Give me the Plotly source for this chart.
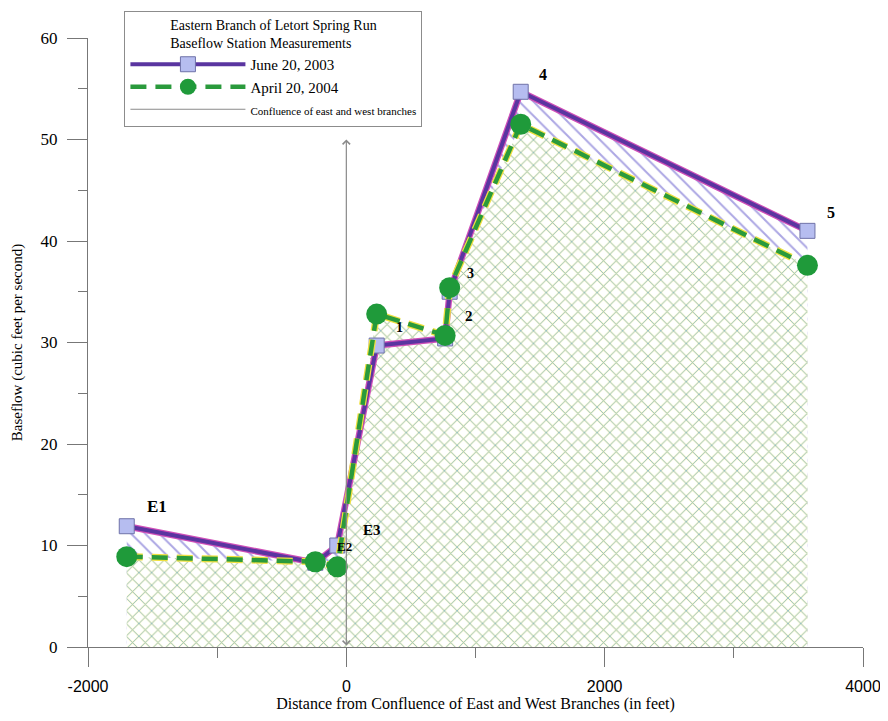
import plotly.graph_objects as go

# ---- data ----
stations = ["E1", "E2", "E3", "1", "2", "3", "4", "5"]
distance_ft = [-1700, -240, -70, 235, 765, 800, 1350, 3570]
june_2003 = [11.9, 8.3, 10.0, 29.7, 30.4, 35.0, 54.7, 41.0]
april_2004 = [8.9, 8.4, 7.9, 32.8, 30.7, 35.4, 51.5, 37.6]
x_tick_vals = [-2000, 0, 2000, 4000]
x_tick_text = ["-2000", "0", "2000", "4000"]
y_tick_vals = [0, 10, 20, 30, 40, 50, 60]
confluence_x = 0
confluence_arrow_y = [0, 50]

# label offsets (pixels) relative to the June points
label_dx = [30, 29, 35, 23, 24, 21, 22, 24]
label_dy = [20, 16, 16, 18, 22, 18, 17, 18]
label_size = [17, 13, 15, 14, 15, 14, 16, 16]

SERIF = "Liberation Serif"
SANS = "Liberation Sans"

fig = go.Figure()

# June 2003 hatched area ("\" lines)
fig.add_trace(go.Scatter(
    x=distance_ft, y=june_2003, mode="none", fill="tozeroy",
    fillcolor="rgba(0,0,0,0)",
    fillpattern=dict(shape="\\", fgcolor="#5a50c8", bgcolor="rgba(0,0,0,0)",
                     size=10, solidity=0.2),
    showlegend=False, hoverinfo="skip"))

# April 2004 crosshatched area (yellow under-layer + blue lines)
fig.add_trace(go.Scatter(
    x=distance_ft, y=april_2004, mode="none", fill="tozeroy",
    fillcolor="rgba(0,0,0,0)",
    fillpattern=dict(shape="x", fgcolor="#f0ea5a", bgcolor="white",
                     size=9, solidity=0.28),
    showlegend=False, hoverinfo="skip"))
fig.add_trace(go.Scatter(
    x=distance_ft, y=april_2004, mode="none", fill="tozeroy",
    fillcolor="rgba(0,0,0,0)",
    fillpattern=dict(shape="x", fgcolor="#3d8ee0", bgcolor="rgba(0,0,0,0)",
                     size=9, solidity=0.2),
    showlegend=False, hoverinfo="skip"))

# June 2003 line (magenta fringe + purple core) and squares
fig.add_trace(go.Scatter(
    x=distance_ft, y=june_2003, mode="lines",
    line=dict(color="#cf4fb8", width=6.5),
    showlegend=False, hoverinfo="skip", legendgroup="june"))
fig.add_trace(go.Scatter(
    x=distance_ft, y=june_2003, mode="lines+markers",
    name="June 20, 2003", legendgroup="june",
    line=dict(color="#5a35a0", width=4),
    marker=dict(symbol="square", size=15, color="#b6bdf0",
                line=dict(color="#6f72a8", width=1))))

# April 2004 line (yellow fringe + green dashes) and circles
fig.add_trace(go.Scatter(
    x=distance_ft, y=april_2004, mode="lines",
    line=dict(color="#f0e040", width=7, dash="16px,9px"),
    showlegend=False, hoverinfo="skip", legendgroup="april"))
fig.add_trace(go.Scatter(
    x=distance_ft, y=april_2004, mode="lines+markers",
    name="April 20, 2004", legendgroup="april",
    line=dict(color="#2a9a3c", width=4.5, dash="16px,9px"),
    marker=dict(symbol="circle", size=21, color="#1f9a3a",
                line=dict(color="#1f9a3a", width=0))))

# legend entry for the confluence arrow
fig.add_trace(go.Scatter(
    x=[None], y=[None], mode="lines",
    name="<span style='font-size:11px'>Confluence of east and west branches</span>",
    line=dict(color="#8a8a8a", width=1.2)))

# confluence double arrow
fig.add_annotation(
    x=confluence_x, y=confluence_arrow_y[1], ax=confluence_x, ay=confluence_arrow_y[0],
    xref="x", yref="y", axref="x", ayref="y", text="", showarrow=True,
    arrowhead=4, startarrowhead=4, arrowside="end+start",
    arrowsize=1.2, arrowwidth=1.2, arrowcolor="#8a8a8a")

# station labels
for name, xv, yv, dx, dy, fs in zip(stations, distance_ft, june_2003,
                                     label_dx, label_dy, label_size):
    fig.add_annotation(
        x=xv, y=yv, text=f"<b>{name}</b>", showarrow=False,
        xshift=dx, yshift=dy,
        font=dict(family=SERIF, size=fs, color="black"))

fig.update_layout(
    width=880, height=705,
    paper_bgcolor="white", plot_bgcolor="white",
    margin=dict(l=80, r=25, t=30, b=66, autoexpand=False),
    font=dict(family=SERIF, color="black"),
    legend=dict(
        x=0.047, y=1.045, xanchor="left", yanchor="top",
        bordercolor="#8c8c8c", borderwidth=1, bgcolor="white",
        font=dict(family=SERIF, size=15),
        title=dict(text="Eastern Branch of Letort Spring Run<br>Baseflow Station Measurements",
                   side="top center", font=dict(family=SERIF, size=14)),
        itemwidth=115, tracegroupgap=0),
    xaxis=dict(
        range=[-2000, 4000], tickvals=x_tick_vals, ticktext=x_tick_text,
        ticks="outside", ticklen=19, tickwidth=1, tickcolor="#777",
        showline=True, linecolor="#777", linewidth=1,
        showgrid=False, zeroline=False, automargin=False,
        ticklabelstandoff=6,
        minor=dict(dtick=1000, ticks="outside", ticklen=10, tickcolor="#777", showgrid=False),
        tickfont=dict(family=SANS, size=16),
        title=dict(text="Distance from Confluence of East and West Branches (in feet)",
                   font=dict(family=SERIF, size=16), standoff=8)),
    yaxis=dict(
        range=[0, 60], tickvals=y_tick_vals,
        ticks="outside", ticklen=20, tickwidth=1, tickcolor="#777",
        showline=True, linecolor="#777", linewidth=1,
        showgrid=False, zeroline=False, automargin=False,
        ticklabelstandoff=6,
        minor=dict(dtick=5, ticks="outside", ticklen=9, tickcolor="#777", showgrid=False),
        tickfont=dict(family=SERIF, size=17),
        title=dict(text="Baseflow (cubic feet per second)",
                   font=dict(family=SERIF, size=15), standoff=14)),
)

fig.write_html("out.html")
